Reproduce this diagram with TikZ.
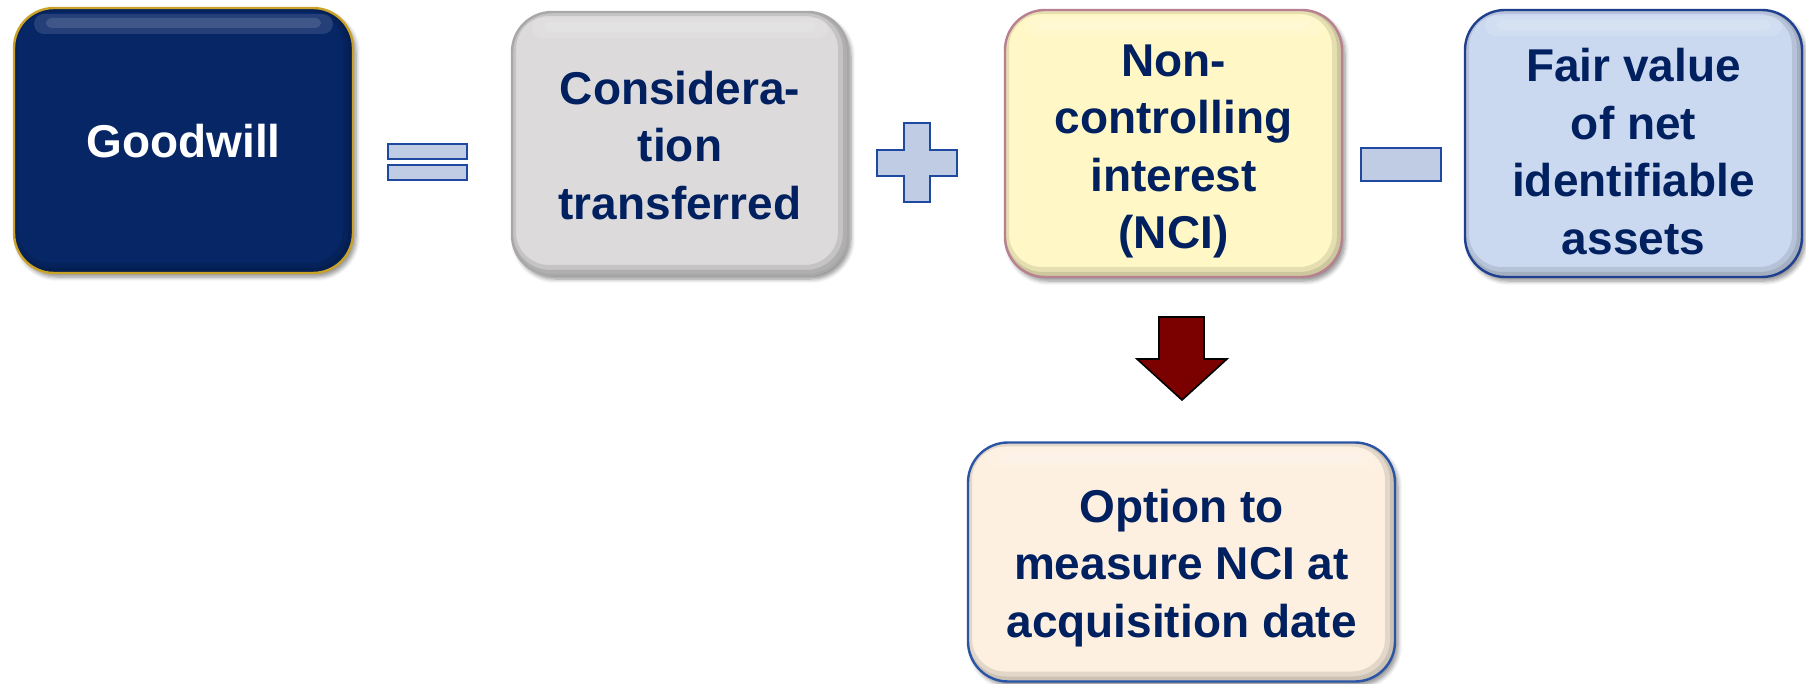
\documentclass[tikz,border=0pt]{standalone}
\usepackage{fontspec}
\setmainfont{Liberation Sans}
\usetikzlibrary{shadows.blur}
\definecolor{navytext}{HTML}{002060}
\definecolor{gwfill}{HTML}{072666}
\definecolor{gwborder}{HTML}{C9A227}
\definecolor{grayfill}{HTML}{DCDADB}
\definecolor{grayborder}{HTML}{A8A8A8}
\definecolor{yelfill}{HTML}{FFF8C6}
\definecolor{yelborder}{HTML}{B88090}
\definecolor{bluefill}{HTML}{CBD9F0}
\definecolor{blueborder}{HTML}{1F3F8F}
\definecolor{creamfill}{HTML}{FDF0E1}
\definecolor{creamborder}{HTML}{2A55A5}
\definecolor{opfill}{HTML}{C0CCE4}
\definecolor{opborder}{HTML}{1F48A0}
\definecolor{arrowfill}{HTML}{7B0000}
\tikzset{
  box/.style={rectangle, rounded corners=20pt, line width=1.2pt, inner sep=0pt,
    blur shadow={shadow xshift=1.5pt, shadow yshift=-2pt, shadow blur steps=6, shadow opacity=45},
    path picture={
      \draw[black, opacity=0.10, line width=7pt, rounded corners=20pt]
        ([shift={(-1.5pt,1.5pt)}]path picture bounding box.south west) rectangle
        ([shift={(-1.5pt,1.5pt)}]path picture bounding box.north east);
      \draw[black, opacity=0.10, line width=3pt, rounded corners=20pt]
        ([shift={(-1pt,1pt)}]path picture bounding box.south west) rectangle
        ([shift={(-1pt,1pt)}]path picture bounding box.north east);
      \fill[white, opacity=0.12, rounded corners=5pt]
        ([shift={(10pt,-3pt)}]path picture bounding box.north west) rectangle
        ([shift={(-10pt,-13pt)}]path picture bounding box.north east);
      \fill[white, opacity=0.12, rounded corners=3pt]
        ([shift={(16pt,-5pt)}]path picture bounding box.north west) rectangle
        ([shift={(-16pt,-10pt)}]path picture bounding box.north east);
    }},
  boxtext/.style={align=center, inner sep=0pt,
    font=\fontsize{23pt}{28.75pt}\selectfont\bfseries, text=navytext},
  opbar/.style={rectangle, draw=opborder, fill=opfill, line width=1.2pt, inner sep=0pt},
}
\begin{document}
\begin{tikzpicture}[x=0.5pt, y=-0.5pt]
\useasboundingbox (0,0) rectangle (1806,684);
% main boxes
\node[box, fill=gwfill, draw=gwborder, minimum width=169.5pt, minimum height=132.5pt] (gw) at (183.5,140.5) {};
\node[boxtext, text=white] (gwt) at ([yshift=-0.5pt]gw.center) {Goodwill};
\node[box, fill=grayfill, draw=grayborder, minimum width=168pt, minimum height=131.5pt] (ct) at (680,143.5) {};
\node[boxtext] (ctt) at ([yshift=-1pt]ct.center) {Considera-\\tion\\transferred};
\node[box, fill=yelfill, draw=yelborder, minimum width=168.5pt, minimum height=133.5pt] (nci) at (1173.5,143.5) {};
\node[boxtext] (ncit) at ([yshift=-4pt]nci.center) {Non-\\controlling\\interest\\(NCI)};
\node[box, fill=bluefill, draw=blueborder, minimum width=168.5pt, minimum height=133.5pt] (fv) at (1633.5,143.5) {};
\node[boxtext] (fvt) at ([yshift=-4pt]fv.center) {Fair value\\of net\\identifiable\\assets};
\node[box, fill=creamfill, draw=creamborder, minimum width=213.5pt, minimum height=119.5pt] (opt) at (1181.5,562) {};
\node[boxtext] (optt) at ([yshift=-3pt]opt.center) {Option to\\measure NCI at\\acquisition date};
% equals
\node[opbar, minimum width=39.5pt, minimum height=7.5pt] (eqa) at (427.5,151.5) {};
\node[opbar, minimum width=39.5pt, minimum height=7.5pt] (eqb) at (427.5,172.5) {};
% plus
\draw[draw=opborder, fill=opfill, line width=1.2pt]
  (904,123) -- (930,123) -- (930,150) -- (957,150) -- (957,176) -- (930,176) -- (930,202)
  -- (904,202) -- (904,176) -- (877,176) -- (877,150) -- (904,150) -- cycle;
% minus
\node[opbar, minimum width=40pt, minimum height=16.5pt] (minus) at (1401,164.5) {};
% block arrow
\draw[draw=black, fill=arrowfill, line width=0.8pt]
  (1159,317) -- (1204,317) -- (1204,359) -- (1227,359) -- (1182,400) -- (1137,359) -- (1159,359) -- cycle;
\end{tikzpicture}
\end{document}
